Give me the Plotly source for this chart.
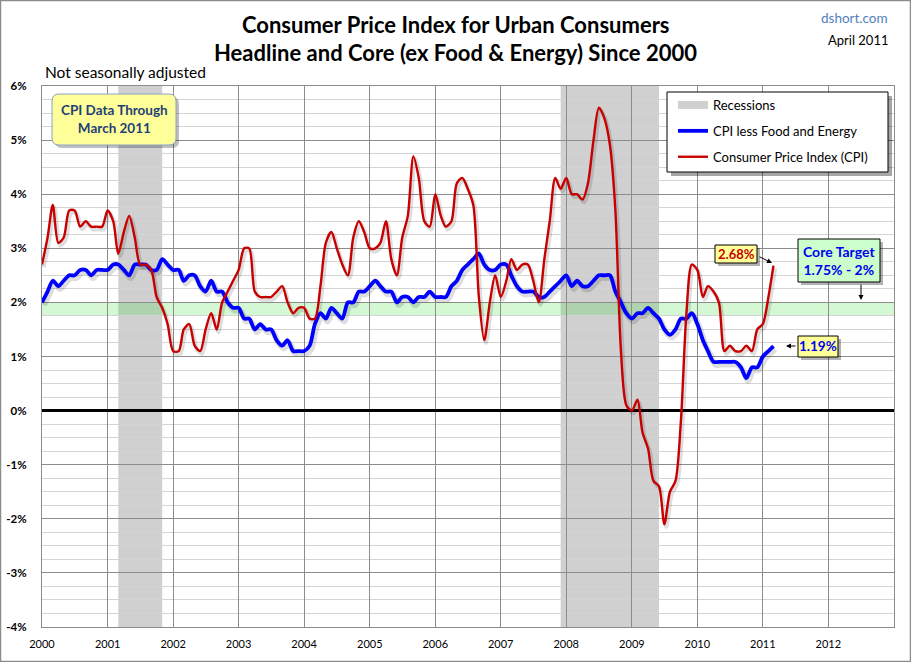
import pandas as pd
import plotly.graph_objects as go

# ---------------- data ----------------
start_month = "2000-01-01"
cpi_yoy = [
    2.7, 3.2, 3.8, 3.1, 3.2, 3.7, 3.7, 3.4, 3.5, 3.4, 3.4, 3.4,   # 2000
    3.7, 3.5, 2.9, 3.3, 3.6, 3.2, 2.7, 2.7, 2.6, 2.1, 1.9, 1.6,   # 2001
    1.1, 1.1, 1.5, 1.6, 1.2, 1.1, 1.5, 1.8, 1.5, 2.0, 2.2, 2.4,   # 2002
    2.6, 3.0, 3.0, 2.2, 2.1, 2.1, 2.1, 2.2, 2.3, 2.0, 1.8, 1.9,   # 2003
    1.9, 1.7, 1.7, 2.3, 3.1, 3.3, 3.0, 2.7, 2.5, 3.2, 3.5, 3.3,   # 2004
    3.0, 3.0, 3.1, 3.5, 2.8, 2.5, 3.2, 3.6, 4.7, 4.3, 3.5, 3.4,   # 2005
    4.0, 3.6, 3.4, 3.5, 4.2, 4.3, 4.1, 3.8, 2.1, 1.3, 2.0, 2.5,   # 2006
    2.1, 2.4, 2.8, 2.6, 2.7, 2.7, 2.4, 2.0, 2.8, 3.5, 4.3, 4.1,   # 2007
    4.3, 4.0, 4.0, 3.9, 4.2, 5.0, 5.6, 5.4, 4.9, 3.7, 1.1, 0.1,   # 2008
    0.0, 0.2, -0.4, -0.7, -1.3, -1.4, -2.1, -1.5, -1.3, -0.2, 1.8, 2.7,  # 2009
    2.6, 2.1, 2.3, 2.2, 2.0, 1.1, 1.2, 1.1, 1.1, 1.2, 1.1, 1.5,   # 2010
    1.6, 2.1, 2.68,                                               # 2011
]
core_yoy = [
    2.0, 2.2, 2.4, 2.3, 2.4, 2.5, 2.5, 2.6, 2.6, 2.5, 2.6, 2.6,   # 2000
    2.6, 2.7, 2.7, 2.6, 2.5, 2.7, 2.7, 2.7, 2.6, 2.6, 2.8, 2.7,   # 2001
    2.6, 2.6, 2.4, 2.5, 2.5, 2.3, 2.2, 2.4, 2.2, 2.2, 2.0, 1.9,   # 2002
    1.9, 1.7, 1.7, 1.5, 1.6, 1.5, 1.5, 1.3, 1.2, 1.3, 1.1, 1.1,   # 2003
    1.1, 1.2, 1.6, 1.8, 1.7, 1.9, 1.8, 1.7, 2.0, 2.0, 2.2, 2.2,   # 2004
    2.3, 2.4, 2.3, 2.2, 2.2, 2.0, 2.1, 2.1, 2.0, 2.1, 2.1, 2.2,   # 2005
    2.1, 2.1, 2.1, 2.3, 2.4, 2.6, 2.7, 2.8, 2.9, 2.7, 2.6, 2.6,   # 2006
    2.7, 2.7, 2.5, 2.3, 2.2, 2.2, 2.2, 2.1, 2.1, 2.2, 2.3, 2.4,   # 2007
    2.5, 2.3, 2.4, 2.3, 2.3, 2.4, 2.5, 2.5, 2.5, 2.2, 2.0, 1.8,   # 2008
    1.7, 1.8, 1.8, 1.9, 1.8, 1.7, 1.5, 1.4, 1.5, 1.7, 1.7, 1.8,   # 2009
    1.6, 1.3, 1.1, 0.9, 0.9, 0.9, 0.9, 0.9, 0.8, 0.6, 0.8, 0.8,   # 2010
    1.0, 1.1, 1.19,                                               # 2011
]
recession_starts = ["2001-03-01", "2007-12-01"]
recession_ends = ["2001-11-01", "2009-06-01"]
core_target_low, core_target_high = 1.75, 2.0
year_ticks = [f"{y}-01-01" for y in range(2000, 2013)]
year_labels = [str(y) for y in range(2000, 2013)]
pct_ticks = list(range(-4, 7))
pct_labels = [f"{v}%" for v in pct_ticks]
cpi_label = "2.68%"
core_label = "1.19%"

dates = pd.date_range(start_month, periods=len(cpi_yoy), freq="MS")

# ---------------- geometry helpers (pixel -> paper) ----------------
FW, FH = 911, 662
L, R, T, B = 42, 894, 86, 627
PW, PH = R - L, B - T
def fx(x):
    return (x - L) / PW
def fy(y):
    return (B - y) / PH

def rrect(x0, y0, x1, y1, r):
    p = lambda x, y: f"{fx(x):.5f},{fy(y):.5f}"
    return (f"M {p(x0 + r, y0)} L {p(x1 - r, y0)} Q {p(x1, y0)} {p(x1, y0 + r)} "
            f"L {p(x1, y1 - r)} Q {p(x1, y1)} {p(x1 - r, y1)} L {p(x0 + r, y1)} "
            f"Q {p(x0, y1)} {p(x0, y1 - r)} L {p(x0, y0 + r)} Q {p(x0, y0)} {p(x0 + r, y0)} Z")

FONT = "Lato, 'Liberation Sans', sans-serif"
RED = "#c80000"
BLUE = "#0000ff"

fig = go.Figure()

# shadows of the lines
shift = pd.Timedelta(days=10)
fig.add_trace(go.Scatter(x=dates + shift, y=[v - 0.05 for v in core_yoy], mode="lines",
                         line=dict(color="rgba(0,0,0,0.13)", width=6, shape="spline", smoothing=0.8),
                         showlegend=False, hoverinfo="skip"))
fig.add_trace(go.Scatter(x=dates + shift, y=[v - 0.05 for v in cpi_yoy], mode="lines",
                         line=dict(color="rgba(0,0,0,0.13)", width=4, shape="spline", smoothing=0.8),
                         showlegend=False, hoverinfo="skip"))

# legend dummy for recessions
fig.add_trace(go.Scatter(x=[None], y=[None], mode="lines", name="Recessions",
                         line=dict(color="#d0d0d0", width=8), legendgroup="a"))
fig.add_trace(go.Scatter(x=dates, y=core_yoy, mode="lines", name="CPI less Food and Energy",
                         line=dict(color=BLUE, width=3.8, shape="spline", smoothing=0.8),
                         legendgroup="b"))
fig.add_trace(go.Scatter(x=dates, y=cpi_yoy, mode="lines", name="Consumer Price Index (CPI)",
                         line=dict(color=RED, width=2.4, shape="spline", smoothing=0.8),
                         legendgroup="c"))

shapes = []
# recession bars
for s, e in zip(recession_starts, recession_ends):
    shapes.append(dict(type="rect", xref="x", yref="paper", x0=s, x1=e, y0=0, y1=1,
                       fillcolor="#d0d0d0", line=dict(width=0), layer="below"))
# core target band
shapes.append(dict(type="rect", xref="paper", yref="y", x0=0, x1=1,
                   y0=core_target_low, y1=core_target_high,
                   fillcolor="rgba(60,220,60,0.22)", line=dict(width=0), layer="below"))
# outer frame
shapes.append(dict(type="rect", xref="paper", yref="paper", x0=fx(0.5), x1=fx(910.5),
                   y0=fy(661.5), y1=fy(0.5), line=dict(color="#8c8c8c", width=1.5), layer="above"))
# legend box + shadow
shapes.append(dict(type="rect", xref="paper", yref="paper", x0=fx(671), x1=fx(892),
                   y0=fy(176), y1=fy(96), fillcolor="rgba(0,0,0,0.35)", line=dict(width=0), layer="above"))
shapes.append(dict(type="rect", xref="paper", yref="paper", x0=fx(667), x1=fx(888),
                   y0=fy(172), y1=fy(92), fillcolor="white", line=dict(color="black", width=1), layer="above"))
# CPI data box (rounded) + shadow
shapes.append(dict(type="path", xref="paper", yref="paper", path=rrect(55, 97, 179, 148, 7),
                   fillcolor="rgba(0,0,0,0.25)", line=dict(width=0), layer="above"))
shapes.append(dict(type="path", xref="paper", yref="paper", path=rrect(52, 94, 176, 145, 7),
                   fillcolor="#ffff99", line=dict(color="#8aa3c8", width=1), layer="above"))
# 2.68% box
shapes.append(dict(type="rect", xref="paper", yref="paper", x0=fx(718), x1=fx(760),
                   y0=fy(266), y1=fy(248), fillcolor="rgba(0,0,0,0.3)", line=dict(width=0), layer="above"))
shapes.append(dict(type="rect", xref="paper", yref="paper", x0=fx(715), x1=fx(757),
                   y0=fy(263), y1=fy(245), fillcolor="#ffff99", line=dict(color="black", width=1), layer="above"))
# Core target box
shapes.append(dict(type="rect", xref="paper", yref="paper", x0=fx(801), x1=fx(883),
                   y0=fy(285), y1=fy(242), fillcolor="rgba(0,0,0,0.3)", line=dict(width=0), layer="above"))
shapes.append(dict(type="rect", xref="paper", yref="paper", x0=fx(798), x1=fx(880),
                   y0=fy(282), y1=fy(239), fillcolor="#ccffcc", line=dict(color="black", width=1), layer="above"))
# 1.19% box
shapes.append(dict(type="rect", xref="paper", yref="paper", x0=fx(801), x1=fx(841),
                   y0=fy(360), y1=fy(339), fillcolor="rgba(0,0,0,0.3)", line=dict(width=0), layer="above"))
shapes.append(dict(type="rect", xref="paper", yref="paper", x0=fx(798), x1=fx(838),
                   y0=fy(357), y1=fy(336), fillcolor="#ffff99", line=dict(color="black", width=1), layer="above"))

annotations = [
    dict(text="<b>Consumer Price Index for Urban Consumers</b>", x=fx(455), y=fy(25),
         font=dict(size=22, color="black")),
    dict(text="<b>Headline and Core (ex Food &amp; Energy) Since 2000</b>", x=fx(455), y=fy(53),
         font=dict(size=22, color="black")),
    dict(text="dshort.com", x=fx(890), y=fy(18), xanchor="right", font=dict(size=13.5, color="#4f81bd")),
    dict(text="April 2011", x=fx(890), y=fy(40), xanchor="right", font=dict(size=13, color="black")),
    dict(text="Not seasonally adjusted", x=fx(43), y=fy(72), xanchor="left", font=dict(size=15.5, color="black")),
    dict(text="<b>CPI Data Through<br>March 2011</b>", x=fx(114), y=fy(119),
         font=dict(size=13.5, color="#1f3f77")),
    dict(text=f"<b>{cpi_label}</b>", x=fx(736), y=fy(254), font=dict(size=13, color=RED)),
    dict(text="<b>Core Target<br>1.75% - 2%</b>", x=fx(839), y=fy(260), font=dict(size=14, color="#0000ee")),
    dict(text=f"<b>{core_label}</b>", x=fx(818), y=fy(346), font=dict(size=13.5, color="#0000ee")),
    # arrows
    dict(text="", x=fx(772), y=fy(263), ax=-14, ay=-7, showarrow=True, arrowhead=2,
         arrowsize=1, arrowwidth=1, arrowcolor="black"),
    dict(text="", x=fx(861), y=fy(300), ax=0, ay=-17, showarrow=True, arrowhead=2,
         arrowsize=1, arrowwidth=1, arrowcolor="black"),
    dict(text="", x=fx(786), y=fy(346), ax=11, ay=0, showarrow=True, arrowhead=2,
         arrowsize=1, arrowwidth=1, arrowcolor="black"),
]
for a in annotations:
    a.setdefault("xref", "paper")
    a.setdefault("yref", "paper")
    a.setdefault("showarrow", False)
    a.setdefault("yanchor", "middle")
    a.setdefault("xanchor", "center")

fig.update_layout(
    width=FW, height=FH,
    margin=dict(l=L, r=FW - R, t=T, b=FH - B, pad=0, autoexpand=False),
    paper_bgcolor="white", plot_bgcolor="white",
    font=dict(family=FONT, color="black"),
    shapes=shapes, annotations=annotations,
    showlegend=True,
    legend=dict(x=fx(673), y=fy(90), xanchor="left", yanchor="top",
                bgcolor="rgba(0,0,0,0)", borderwidth=0,
                font=dict(size=13, color="black"), tracegroupgap=6,
                traceorder="grouped"),
    hovermode=False,
)
fig.update_xaxes(type="date", range=["2000-01-01", "2013-01-01"], automargin=False,
                 tickvals=year_ticks, ticktext=year_labels,
                 showgrid=True, gridcolor="#8c8c8c", gridwidth=1,
                 showline=True, linecolor="#8c8c8c", mirror=True,
                 ticks="", tickfont=dict(size=11), ticklabelstandoff=7,
                 zeroline=False)
fig.update_yaxes(range=[-4, 6], tickvals=pct_ticks, ticktext=pct_labels, automargin=False,
                 showgrid=True, gridcolor="#8c8c8c", gridwidth=1,
                 minor=dict(dtick=0.25, showgrid=True, gridcolor="#d4d4d4", gridwidth=1),
                 showline=True, linecolor="#8c8c8c", mirror=True,
                 zeroline=True, zerolinecolor="black", zerolinewidth=2.5,
                 ticks="", tickfont=dict(size=11.5, weight="bold"), ticklabelstandoff=12)

fig.write_html("out.html", config={"displayModeBar": False},
               post_script="document.body.style.margin='0';document.body.style.overflow='hidden';")
